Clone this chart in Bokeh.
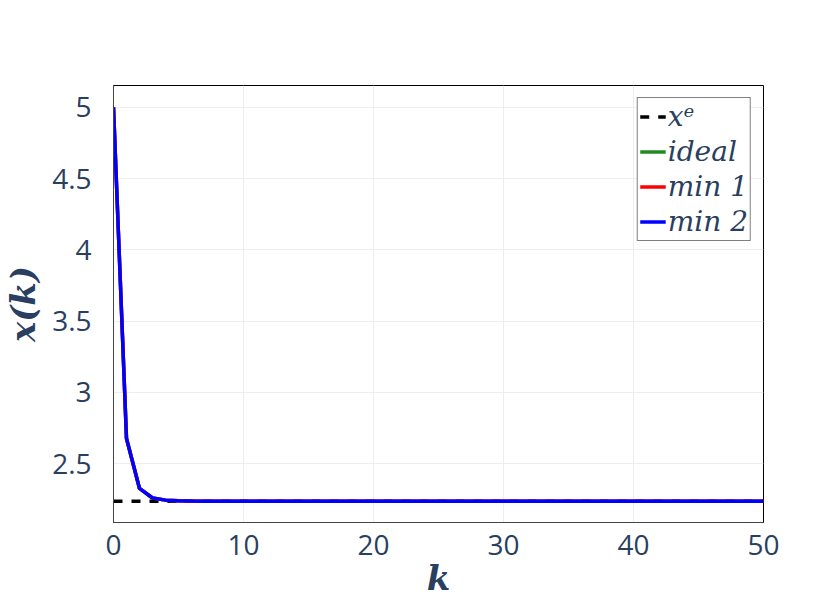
from bokeh.plotting import figure
from bokeh.models import Legend, LegendItem, FixedTicker, Range1d
from bokeh.embed import file_html
from bokeh.resources import INLINE

k = list(range(0, 51))
x_e_value = 2.236
traj_head = [5.0, 2.676, 2.325, 2.258, 2.243, 2.239, 2.237]
traj = traj_head + [2.236] * (len(k) - len(traj_head))
x_e = [x_e_value] * len(k)
ideal = traj
min1 = traj
min2 = traj

y_ticks = [2.5, 3, 3.5, 4, 4.5, 5]
y_tick_labels = ["2.5", "3", "3.5", "4", "4.5", "5"]
x_ticks = [0, 10, 20, 30, 40, 50]

font_color = "#2a3f5f"

p = figure(width=831, height=610, output_backend="svg", toolbar_location=None,
           x_range=Range1d(0, 50), y_range=Range1d(2.086, 5.154),
           min_border_left=113, min_border_right=68, min_border_top=85, min_border_bottom=88)

r_xe = p.line(k, x_e, line_color="black", line_width=3.5, line_dash="9 9")
r_ideal = p.line(k, ideal, line_color="#228B22", line_width=3.5)
r_min1 = p.line(k, min1, line_color="red", line_width=3.5)
r_min2 = p.line(k, min2, line_color="blue", line_width=3.5)

p.outline_line_color = "black"
p.outline_line_width = 1

for ax in (p.xaxis, p.yaxis):
    ax.major_tick_line_color = None
    ax.minor_tick_line_color = None
    ax.major_tick_out = 0
    ax.major_tick_in = 0
    ax.minor_tick_out = 0
    ax.minor_tick_in = 0
    ax.axis_line_color = "#444444"
    ax.major_label_text_font = "Open Sans"
    ax.major_label_text_font_size = "28px"
    ax.major_label_text_color = font_color
    ax.axis_label_text_font = "DejaVu Serif"
    ax.axis_label_text_font_style = "bold italic"
    ax.axis_label_text_font_size = "34px"
    ax.axis_label_text_color = font_color

p.xaxis.ticker = FixedTicker(ticks=x_ticks)
p.yaxis.ticker = FixedTicker(ticks=y_ticks)
p.yaxis.major_label_overrides = {t: l for t, l in zip(y_ticks, y_tick_labels)}
p.xaxis.major_label_standoff = 12
p.yaxis.major_label_standoff = 22
p.xaxis.axis_label = "k"
p.yaxis.axis_label = "x(k)"
p.xaxis.axis_label_standoff = 0
p.yaxis.axis_label_standoff = 6

p.xgrid.grid_line_color = "#eeeeee"
p.ygrid.grid_line_color = "#eeeeee"

legend = Legend(items=[
    LegendItem(label="xᵉ", renderers=[r_xe]),
    LegendItem(label="ideal", renderers=[r_ideal]),
    LegendItem(label="min 1", renderers=[r_min1]),
    LegendItem(label="min 2", renderers=[r_min2]),
], location="top_right")
legend.label_text_font = "DejaVu Serif"
legend.label_text_font_style = "italic"
legend.label_text_font_size = "28px"
legend.label_text_color = font_color
legend.border_line_color = "black"
legend.border_line_width = 1
legend.background_fill_color = "white"
legend.background_fill_alpha = 1
legend.glyph_width = 26
legend.glyph_height = 31
legend.label_height = 31
legend.spacing = 2
legend.padding = 2
legend.margin = 12
legend.label_standoff = 2
p.add_layout(legend)

open("out.html", "w").write(file_html(p, INLINE))
